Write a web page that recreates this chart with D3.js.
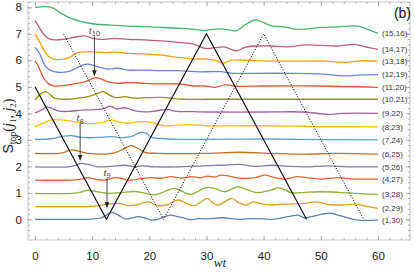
<!DOCTYPE html>
<html><head><meta charset="utf-8">
<script src="https://cdn.jsdelivr.net/npm/d3@7"></script>
<style>
html,body{margin:0;padding:0;background:#fff;}
svg{display:block;font-family:"Liberation Sans",Arial,sans-serif;}
</style></head>
<body>
<svg id="c" width="415" height="277"></svg>
<script>
// ---------- data ----------
const categories = ["(1,30)","(2,29)","(3,28)","(4,27)","(5,26)","(6,25)","(7,24)","(8,23)","(9,22)","(10,21)","(11,20)","(12,19)","(13,18)","(14,17)","(15,16)"];
const colors = ["#5E81B5","#E19C24","#8FB032","#EB6235","#8778B3","#C56E1A","#5D9EC7","#FFBF00","#A5609D","#929600","#E95536","#6685D9","#F89F13","#BC5B80","#47B66D"];

const s01 = [[0,0],[5,0],[10,0.01],[11.5,0.05],[12.5,0.16],[13.4,0.26],[14.5,0.17],[15.7,0.02],[16.8,0.04],[18,0.1],[19.2,0.05],[20.3,-0.03],[21.5,0.0],[22.7,0.1],[23.8,0.16],[25,0.1],[26.2,0.04],[27.3,-0.02],[28.5,0.03],[30,0.02],[32.6,0.06],[34.4,0.03],[35.7,0.0],[38.5,0.03],[41.4,0.0],[44.3,0.1],[46,0.16],[47.2,0.05],[48.3,0.1],[50.1,0.19],[51.6,0.23],[53,0.16],[54.8,0.05],[56.5,-0.03],[60,-0.03]];
const s02 = [[0,0.48],[8,0.48],[10.4,0.5],[12.8,0.57],[14.5,0.6],[16.3,0.52],[18,0.56],[19.8,0.66],[21.5,0.52],[23.2,0.55],[25,0.73],[26.7,0.58],[27.9,0.52],[29,0.65],[30.2,0.79],[30.9,0.66],[32,0.54],[33.2,0.66],[34.4,0.79],[35.7,0.62],[37,0.54],[38.2,0.66],[39.4,0.6],[41.4,0.54],[43.2,0.57],[45,0.58],[47.2,0.6],[49,0.66],[51.3,0.56],[53.6,0.54],[56,0.57],[57.8,0.5],[60,0.41]];
const s03 = [[0,0.98],[6.5,0.98],[8.1,1.03],[9.3,1.1],[10.4,1.06],[12.8,0.98],[15.1,1.01],[17.4,1.05],[19.2,0.99],[20.9,0.92],[22.7,1.05],[24.4,1.17],[26.2,1.01],[27.3,0.94],[28.5,1.05],[29.7,1.19],[31,1.19],[32,1.12],[33.2,1.04],[34.4,1.14],[35.5,1.23],[36.7,1.15],[38.5,1.02],[39.6,1.02],[41.4,1.11],[42.5,1.19],[43.7,1.11],[44.9,1.0],[47.2,1.02],[50.1,1.04],[53,1.02],[56,0.98],[60,0.94]];
const s04 = [[0,1.48],[5.8,1.48],[8.1,1.52],[9.3,1.57],[10.4,1.52],[12.2,1.48],[13.9,1.57],[15.1,1.55],[16.3,1.48],[18,1.52],[20.3,1.57],[22.1,1.55],[23.8,1.61],[25.6,1.55],[27.3,1.61],[29,1.57],[30.2,1.63],[31.5,1.6],[32.6,1.67],[34.4,1.61],[36.1,1.55],[38.5,1.57],[40.2,1.67],[41.9,1.57],[43.7,1.52],[45.9,1.61],[47.6,1.57],[49.9,1.52],[53,1.57],[55.9,1.52],[60,1.52]];
const s05 = [[0,1.98],[5.8,1.98],[7,2.03],[8.1,2.11],[9.3,2.07],[11,1.98],[13.4,2.0],[15.7,2.04],[17.4,1.98],[18.6,2.02],[20.9,1.98],[25,1.98],[29.7,2.02],[32.6,2.04],[35.7,2.07],[38.5,2.0],[41.4,2.04],[44.3,2.0],[47.2,1.98],[51.3,2.02],[54.8,1.98],[60,1.98]];
const s06 = [[0,2.49],[4.6,2.5],[6.3,2.62],[7.5,2.58],[9.3,2.49],[13.9,2.51],[15.7,2.68],[16.8,2.78],[18,2.68],[19.2,2.53],[21.5,2.49],[29.7,2.49],[35.7,2.53],[41.4,2.49],[47.2,2.46],[53,2.49],[60,2.46]];
const s07 = [[0,3.02],[2.9,3.04],[4.6,3.12],[6.3,3.16],[8.1,3.09],[10.4,3.08],[13.4,3.12],[15.1,3.08],[16.8,3.12],[18.6,3.28],[19.5,3.24],[20.3,3.1],[22.1,3.05],[25,3.02],[30,3.02],[40,3.03],[50,3.01],[60,3.0]];
const s08 = [[0,3.49],[1.4,3.62],[2.9,3.75],[4.6,3.75],[7,3.68],[8.7,3.62],[10.4,3.62],[12.2,3.68],[13.4,3.75],[14.5,3.68],[16.3,3.62],[18,3.68],[19.8,3.68],[20.9,3.62],[22.7,3.53],[24.4,3.55],[26.7,3.57],[29,3.55],[30,3.53],[40,3.53],[50,3.5],[60,3.49]];
const s09 = [[0,4.02],[1.1,4.12],[2.0,4.23],[2.9,4.2],[4.0,4.09],[5.8,4.07],[8.1,4.12],[10.4,4.14],[12.2,4.19],[13.1,4.27],[14.2,4.17],[15.7,4.21],[16.8,4.14],[18.6,4.06],[20.9,4.08],[23.3,4.15],[24.4,4.08],[27.9,4.06],[30,4.05],[40,4.05],[47,4.05],[51.3,3.96],[54,4.0],[60,4.0]];
const s10 = [[0,4.5],[0.8,4.69],[1.7,4.82],[2.6,4.72],[3.4,4.57],[5.2,4.53],[7.5,4.57],[9.3,4.63],[11,4.75],[11.9,4.82],[13.1,4.68],[14.2,4.59],[15.7,4.63],[17.4,4.57],[19.8,4.59],[22.1,4.6],[23.8,4.57],[25.6,4.53],[30,4.53],[60,4.53]];
const s11 = [[0,5.98],[0.5,5.82],[1.4,5.38],[2.3,5.13],[3.4,5.03],[5.2,5.05],[6.9,5.11],[8.7,5.19],[10.4,5.34],[11.2,5.32],[12.8,5.19],[14.5,5.13],[16.3,5.16],[19.2,5.13],[22.1,5.11],[25,5.11],[27.9,5.03],[29.7,5.03],[31.5,4.98],[33.2,5.07],[35.5,5.02],[40,5.03],[50,5.03],[60,4.98]];
const s12 = [[0,6.49],[0.8,6.26],[1.7,5.82],[2.6,5.63],[4.0,5.55],[5.8,5.57],[7.2,5.7],[8.7,5.85],[9.6,5.85],[11,5.76],[12.8,5.67],[14.5,5.7],[16.3,5.63],[19.2,5.63],[22.1,5.61],[25,5.61],[27.9,5.57],[30.9,5.57],[32.6,5.57],[34.4,5.51],[38,5.51],[44.3,5.51],[50,5.49],[54.2,5.41],[57,5.45],[60,5.46]];
const s13 = [[0,6.99],[0.5,6.83],[1.4,6.45],[2.3,6.16],[3.4,6.04],[5.2,6.05],[6.3,6.14],[7.5,6.29],[8.7,6.32],[10.4,6.32],[12.2,6.29],[14,6.31],[16.3,6.26],[19.2,6.24],[22.1,6.2],[25,6.11],[27.9,6.05],[29.7,6.05],[31.5,6.01],[32.9,5.89],[34.4,6.01],[37,6.0],[41.4,5.97],[47,5.97],[51,5.97],[54.2,5.92],[57,5.98],[60,5.97]];
const s14 = [[0,7.5],[0.5,7.33],[1.4,7.02],[2.3,6.83],[3.4,6.77],[5.2,6.8],[6.9,6.87],[8.7,6.92],[10.1,6.83],[11.6,6.79],[13.9,6.83],[16.3,6.79],[19.2,6.77],[22.1,6.73],[25,6.68],[27.9,6.6],[29.7,6.45],[32,6.49],[33.2,6.5],[35.3,6.36],[36.7,6.49],[38.5,6.54],[41.4,6.54],[44.3,6.51],[47.2,6.58],[50.1,6.56],[53,6.54],[56,6.6],[57.8,6.51],[60,6.41]];
const s15 = [[0,8.0],[2.9,8.0],[4.6,7.77],[6.3,7.58],[8.1,7.46],[10.4,7.37],[13.4,7.33],[16.3,7.29],[19.2,7.27],[22.1,7.24],[25,7.21],[27.9,7.17],[29.7,7.12],[31,7.17],[33,7.18],[35.3,7.12],[36.7,7.33],[38.5,7.52],[39.9,7.43],[41.4,7.3],[43.7,7.26],[45.5,7.17],[47.2,7.18],[50.1,7.24],[53,7.26],[56.5,7.29],[58.8,7.12],[60,7.02]];
const seriesValues = [s01,s02,s03,s04,s05,s06,s07,s08,s09,s10,s11,s12,s13,s14,s15];

const solidPath  = [[0,5],[12.5,0],[30,7],[47.5,0]];
const dottedPath = [[5,7],[22.5,0],[40,7],[57.5,0]];

const arrowSub   = ["10","8","9"];
const arrowT     = [10.4, 7.9, 12.6];
const arrowFrom  = [6.9, 3.6, 1.55];
const arrowTo    = [5.4, 2.2, 0.42];

const xTicks = [0,10,20,30,40,50,60];
const yTicks = [0,1,2,3,4,5,6,7,8];

// ---------- layout ----------
const svg = d3.select("#c");
const L=28, R=410, T=2, B=240;
const x = d3.scaleLinear().domain([-1.22,65.6]).range([L,R]);
const y = d3.scaleLinear().domain([-0.78,8.2]).range([B,T]);

const xMinor = d3.range(0,66,2);
const yMinor = d3.range(-0.6,8.21,0.2).map(v=>+v.toFixed(1));

function styleAxis(g){
  g.select(".domain").remove();
  g.selectAll("line").attr("stroke","#9a9a9a").attr("stroke-width",0.8);
}
// minor ticks
svg.append("g").attr("transform",`translate(0,${B})`).call(d3.axisBottom(x).tickValues(xMinor).tickSize(-2).tickFormat("")).call(styleAxis);
svg.append("g").attr("transform",`translate(0,${T})`).call(d3.axisTop(x).tickValues(xMinor).tickSize(-2).tickFormat("")).call(styleAxis);
svg.append("g").attr("transform",`translate(${L},0)`).call(d3.axisLeft(y).tickValues(yMinor).tickSize(-2).tickFormat("")).call(styleAxis);
svg.append("g").attr("transform",`translate(${R},0)`).call(d3.axisRight(y).tickValues(yMinor).tickSize(-2).tickFormat("")).call(styleAxis);
// major ticks
const xb = svg.append("g").attr("transform",`translate(0,${B})`).call(d3.axisBottom(x).tickValues(xTicks).tickSize(-4).tickPadding(12).tickFormat(d3.format("d"))).call(styleAxis);
svg.append("g").attr("transform",`translate(0,${T})`).call(d3.axisTop(x).tickValues(xTicks).tickSize(-4).tickFormat("")).call(styleAxis);
const yl = svg.append("g").attr("transform",`translate(${L},0)`).call(d3.axisLeft(y).tickValues(yTicks).tickSize(-4).tickPadding(6).tickFormat(d3.format("d"))).call(styleAxis);
svg.append("g").attr("transform",`translate(${R},0)`).call(d3.axisRight(y).tickValues(yTicks).tickSize(-4).tickFormat("")).call(styleAxis);
xb.selectAll("text").attr("font-size",11.5).attr("fill","#1a1a1a").attr("font-family","Liberation Sans, Arial, sans-serif");
yl.selectAll("text").attr("font-size",11.5).attr("fill","#1a1a1a").attr("font-family","Liberation Sans, Arial, sans-serif");

// frame
svg.append("rect").attr("x",L).attr("y",T).attr("width",R-L).attr("height",B-T)
  .attr("fill","none").attr("stroke","#b4b4b4").attr("stroke-width",0.8);

// curves
const line = d3.line().x(d=>x(d[0])).y(d=>y(d[1])).curve(d3.curveCatmullRom.alpha(0.5));
seriesValues.forEach((s,i)=>{
  svg.append("path").attr("d",line(s)).attr("fill","none")
    .attr("stroke",colors[i]).attr("stroke-width",1.3).attr("stroke-linejoin","round");
});

// light-cone lines
const lin = d3.line().x(d=>x(d[0])).y(d=>y(d[1]));
svg.append("path").attr("d",lin(solidPath)).attr("fill","none").attr("stroke","#111").attr("stroke-width",1.2);
svg.append("path").attr("d",lin(dottedPath)).attr("fill","none").attr("stroke","#111").attr("stroke-width",1).attr("stroke-dasharray","1.2,1.6");

// legend labels at curve ends
seriesValues.forEach((s,i)=>{
  const last = s[s.length-1];
  svg.append("text").attr("x",x(60)+4).attr("y",y(last[1])).attr("dy","0.35em")
    .attr("font-size",8).attr("fill","#333").text(categories[i]);
});

// arrows
arrowSub.forEach((sub,i)=>{
  const ax = x(arrowT[i]), y0 = y(arrowFrom[i]), y1 = y(arrowTo[i]);
  svg.append("line").attr("x1",ax).attr("x2",ax).attr("y1",y0).attr("y2",y1-5)
    .attr("stroke","#333").attr("stroke-width",0.9);
  svg.append("path").attr("d",`M${ax-2.3},${y1-6}L${ax+2.3},${y1-6}L${ax},${y1}Z`).attr("fill","#222");
  const t = svg.append("text").attr("x",ax).attr("y",y0-2.5).attr("text-anchor","middle")
    .attr("font-size",11).attr("fill","#444").attr("font-family","Liberation Serif, Times New Roman, serif");
  t.append("tspan").attr("font-style","italic").text("t");
  t.append("tspan").attr("font-size",7.5).attr("dy",2.5).attr("font-family","Liberation Sans, Arial, sans-serif").text(sub);
});

// panel label
svg.append("text").attr("x",411).attr("y",18).attr("text-anchor","end").attr("font-size",14).attr("fill","#111").text("(b)");

// axis labels
svg.append("text").attr("x",(L+R)/2+1).attr("y",267).attr("text-anchor","middle")
  .attr("font-size",13).attr("font-style","italic").attr("fill","#222")
  .attr("font-family","Liberation Serif, Times New Roman, serif").text("wt");
const yt = svg.append("text").attr("transform",`translate(13,${(T+B)/2+5}) rotate(-90)`).attr("text-anchor","middle")
  .attr("font-size",14).attr("fill","#222").attr("font-family","Liberation Serif, Times New Roman, serif");
yt.append("tspan").attr("font-family","Liberation Sans, Arial, sans-serif").text("S");
yt.append("tspan").attr("font-size",9).attr("dy",3).attr("font-family","Liberation Sans, Arial, sans-serif").text("top");
yt.append("tspan").attr("dy",-3).text("(");
yt.append("tspan").attr("font-style","italic").text("j");
yt.append("tspan").attr("font-size",9).attr("dy",3).text("1");
yt.append("tspan").attr("dy",-3).text(", ");
yt.append("tspan").attr("font-style","italic").text("j");
yt.append("tspan").attr("font-size",9).attr("dy",3).text("2");
yt.append("tspan").attr("dy",-3).text(")");
</script>
</body></html>
